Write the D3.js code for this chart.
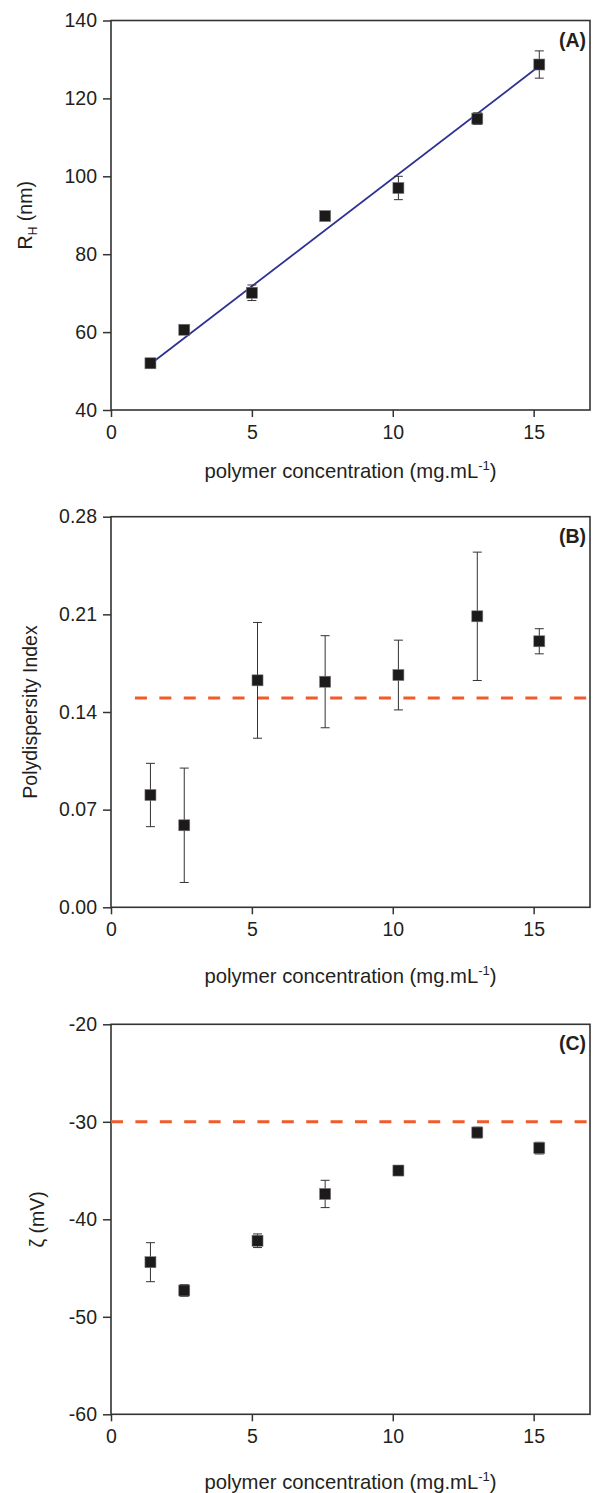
<!DOCTYPE html>
<html><head><meta charset="utf-8">
<script src="https://cdn.jsdelivr.net/npm/d3@7"></script>
<style>body{margin:0;background:#fff}svg{display:block}</style>
</head><body>
<svg id="chart" width="597" height="1493"></svg>
<script>
// ---------- data ----------
const rhConc = [1.4, 2.6, 5.0, 7.6, 10.2, 13.0, 15.2];
const rhValues = [52.0, 60.6, 70.1, 89.8, 97.0, 114.8, 128.7];
const rhErrors = [1.2, 0.6, 2.0, 0.6, 3.0, 1.5, 3.5];
const rhFitX = [1.4, 15.2];
const rhFitY = [51.8, 128.3];

const pdiConc = [1.4, 2.6, 5.2, 7.6, 10.2, 13.0, 15.2];
const pdiValues = [0.0805, 0.0588, 0.1627, 0.1617, 0.1665, 0.2086, 0.1907];
const pdiErrors = [0.0227, 0.041, 0.0415, 0.033, 0.025, 0.046, 0.009];
const pdiThreshold = 0.15;
const pdiThresholdStart = 0.85;

const zetaConc = [1.4, 2.6, 5.2, 7.6, 10.2, 13.0, 15.2];
const zetaValues = [-44.4, -47.3, -42.2, -37.4, -35.0, -31.1, -32.7];
const zetaErrors = [2.0, 0.6, 0.7, 1.4, 0.5, 0.55, 0.6];
const zetaThreshold = -30;

const xTicks = [0, 5, 10, 15];
const rhTicks = [40, 60, 80, 100, 120, 140];
const pdiTicks = [0.00, 0.07, 0.14, 0.21, 0.28];
const zetaTicks = [-60, -50, -40, -30, -20];
const panelLetters = ["(A)", "(B)", "(C)"];

// ---------- drawing ----------
const svg = d3.select("#chart");
const FONT = "'Liberation Sans', Arial, Helvetica, sans-serif";
const INK = "#231f20";
const left = 111, right = 590;

function drawPanel(p) {
  const x = d3.scaleLinear().domain([0, 17]).range([left, right]);
  const y = d3.scaleLinear().domain(p.yDomain).range([p.bottom, p.top]);
  const g = svg.append("g");

  // frame
  g.append("rect").attr("x", left).attr("y", p.top)
    .attr("width", right - left).attr("height", p.bottom - p.top)
    .attr("fill", "none").attr("stroke", "#333").attr("stroke-width", 1.6);

  // axes
  const ya = g.append("g").attr("transform", `translate(${left},0)`)
    .call(d3.axisLeft(y).tickValues(p.yTicks).tickSize(8).tickPadding(6).tickFormat(p.fmt));
  const xa = g.append("g").attr("transform", `translate(0,${p.bottom})`)
    .call(d3.axisBottom(x).tickValues(xTicks).tickSize(7).tickPadding(8).tickFormat(d => String(d)));
  [ya, xa].forEach(a => {
    a.select(".domain").remove();
    a.selectAll("line").attr("stroke", "#333").attr("stroke-width", 1.5);
    a.selectAll("text").attr("fill", INK).style("font-family", FONT).style("font-size", "19.5px");
  });

  // reference line
  if (p.threshold !== undefined) {
    g.append("line")
      .attr("x1", x(p.thresholdStart)).attr("x2", x(17))
      .attr("y1", y(p.threshold)).attr("y2", y(p.threshold))
      .attr("stroke", "#f15a29").attr("stroke-width", 3)
      .attr("stroke-dasharray", "12,12.4");
  }

  // fit line
  if (p.fitX) {
    g.append("path")
      .datum(p.fitX.map((d, i) => [d, p.fitY[i]]))
      .attr("d", d3.line().x(d => x(d[0])).y(d => y(d[1])))
      .attr("fill", "none").attr("stroke", "#2e3192").attr("stroke-width", 1.8);
  }

  const pts = p.xs.map((d, i) => ({ x: d, v: p.vals[i], e: p.errs[i] }));
  // error bars
  const eb = g.append("g").attr("stroke", "#333").attr("stroke-width", 1);
  pts.forEach(d => {
    eb.append("line").attr("x1", x(d.x)).attr("x2", x(d.x))
      .attr("y1", y(d.v - d.e)).attr("y2", y(d.v + d.e));
    [d.v - d.e, d.v + d.e].forEach(vv => {
      eb.append("line").attr("x1", x(d.x) - 4.5).attr("x2", x(d.x) + 4.5)
        .attr("y1", y(vv)).attr("y2", y(vv));
    });
  });
  // markers
  const s = 11;
  g.selectAll("rect.pt").data(pts).join("rect").attr("class", "pt")
    .attr("x", d => x(d.x) - s / 2).attr("y", d => y(d.v) - s / 2)
    .attr("width", s).attr("height", s)
    .attr("fill", "#1c1a1b").attr("stroke", "#777").attr("stroke-width", 0.6);

  // panel letter
  g.append("text").attr("x", 586).attr("y", p.top + 26)
    .attr("text-anchor", "end").attr("fill", INK)
    .style("font-family", FONT).style("font-size", "19.5px").style("font-weight", "bold")
    .text(p.letter);

  // x label
  const xl = g.append("text").attr("x", (left + right) / 2).attr("y", p.bottom + p.xLabelOff)
    .attr("text-anchor", "middle").attr("fill", INK)
    .style("font-family", FONT).style("font-size", "20.3px");
  xl.append("tspan").text("polymer concentration (mg.mL");
  xl.append("tspan").attr("dy", -8).style("font-size", "13px").text("-1");
  xl.append("tspan").attr("dy", 8).text(")");

  // y label
  const yl = g.append("text")
    .attr("transform", `translate(${p.yLabelX},${(p.top + p.bottom) / 2}) rotate(-90)`)
    .attr("text-anchor", "middle").attr("fill", INK)
    .style("font-family", FONT).style("font-size", "19.5px");
  p.yLabel(yl);
}

drawPanel({
  top: 20.5, bottom: 410, yDomain: [40, 140], yTicks: rhTicks, fmt: d => String(d),
  xs: rhConc, vals: rhValues, errs: rhErrors, fitX: rhFitX, fitY: rhFitY,
  letter: panelLetters[0], xLabelOff: 68, yLabelX: 32,
  yLabel: t => {
    t.append("tspan").text("R");
    t.append("tspan").attr("dy", 5).style("font-size", "12px").text("H");
    t.append("tspan").attr("dy", -5).text(" (nm)");
  }
});
drawPanel({
  top: 516.7, bottom: 907.3, yDomain: [0, 0.28], yTicks: pdiTicks, fmt: d3.format(".2f"),
  xs: pdiConc, vals: pdiValues, errs: pdiErrors,
  threshold: pdiThreshold, thresholdStart: pdiThresholdStart,
  letter: panelLetters[1], xLabelOff: 76, yLabelX: 36.5,
  yLabel: t => t.text("Polydispersity Index")
});
drawPanel({
  top: 1024.3, bottom: 1414.3, yDomain: [-60, -20], yTicks: zetaTicks, fmt: d => String(d),
  xs: zetaConc, vals: zetaValues, errs: zetaErrors,
  threshold: zetaThreshold, thresholdStart: 0,
  letter: panelLetters[2], xLabelOff: 75, yLabelX: 44,
  yLabel: t => t.text("\u03B6 (mV)")
});
</script>
</body></html>
